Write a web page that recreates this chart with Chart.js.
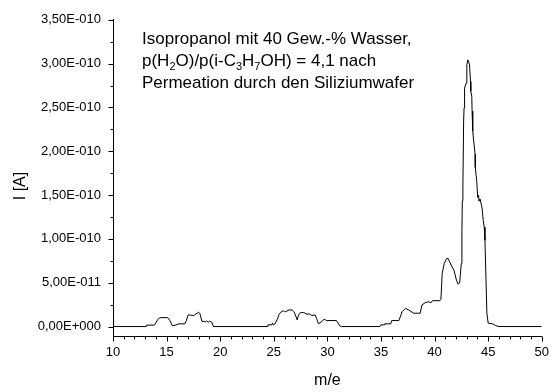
<!DOCTYPE html>
<html>
<head>
<meta charset="utf-8">
<title>Isopropanol / Wasser – Massenspektrum</title>
<script src="https://cdn.jsdelivr.net/npm/chart.js@4/dist/chart.umd.min.js"></script>
<style>
  html, body { margin: 0; padding: 0; background: #fff; }
  canvas { display: block; }
</style>
</head>
<body>
<canvas id="c" width="558" height="392"></canvas>
<script>
// Mass-to-charge ratio m/e
const massToCharge = [
  10, 13.10, 13.12, 13.86, 14.16, 14.30, 14.47, 15.08, 15.30, 15.54, 15.79, 16.16, 16.71, 16.85,
  17.01, 17.25, 17.53, 17.75, 17.99, 18.10, 18.30, 18.50, 18.60, 18.73, 18.90, 19.00, 19.21, 19.37,
  24.42, 24.45, 24.80, 24.88, 24.95, 25.09, 25.34, 25.50, 25.65, 25.89, 25.98, 26.11, 26.42, 26.72,
  26.88, 27.05, 27.18, 27.30, 27.48, 27.80, 28.10, 28.30, 28.56, 28.86, 29.00, 29.17, 29.48, 29.69,
  29.93, 30.85, 31.16, 31.30, 34.90, 34.99, 35.29, 35.35, 35.91, 36.00, 36.67, 36.98, 37.28, 37.59,
  38.05, 38.66, 38.82, 39.12, 39.43, 39.67, 39.79, 40.50, 40.59, 40.65, 40.71, 40.90, 41.12, 41.26,
  41.42, 41.63, 41.81, 42.04, 42.18, 42.34, 42.49, 42.55, 42.59, 42.64, 42.71, 42.75, 42.80, 42.95,
  43.01, 43.10, 43.18, 43.26, 43.35, 43.38, 43.47, 43.50, 43.56, 43.65, 43.78, 43.80, 43.93, 44.02,
  44.10, 44.15, 44.24, 44.42, 44.54, 44.63, 44.70, 44.88, 45.00, 45.40, 45.71, 46.01, 50
];

// Ion current in pA (1 pA = 1E-012 A)
const currentPA = [
  0, 0, 1.6, 1.6, 7.6, 9.5, 10.2, 10.2, 7.0, 0.8, 1.5, 3.1, 3.1, 7.0,
  13.3, 13.0, 12.5, 14.5, 16.3, 15.0, 5.7, 6.0, 5.0, 6.5, 5.0, 6.2, 5.0, 0,
  0, 1.9, 1.9, 3.9, 1.9, 2.7, 8.4, 14.0, 16.3, 18.1, 17.0, 17.0, 18.9, 18.9,
  17.0, 12.0, 7.6, 13.0, 15.9, 15.9, 14.0, 14.5, 12.5, 13.3, 9.0, 3.1, 5.7, 8.4,
  6.8, 6.8, 0.8, 0, 0, 1.9, 1.9, 3.1, 3.1, 6.8, 6.8, 17.0, 20.8, 18.9,
  15.2, 15.2, 24.6, 27.2, 28.3, 27.2, 29.5, 29.5, 31.0, 45.0, 60.5, 71.9, 77.6, 77.6,
  73.7, 68.0, 64.3, 52.9, 48.4, 49.9, 71.9, 109.6, 143.6, 158.7, 234.4, 249.4, 272.1, 277.8,
  298.6, 304.3, 302.0, 298.6, 279.7, 268.4, 262.7, 245.7, 223.0, 211.7, 196.6, 181.4, 166.3, 147.4,
  150.0, 143.0, 145.6, 136.1, 121.0, 113.4, 98.3, 15.2, 3.9, 3.1, 1.1, 0, 0
];

const xMajorTicks = [10, 15, 20, 25, 30, 35, 40, 45, 50];
const xMinorTicks = [11, 12, 13, 14, 16, 17, 18, 19, 21, 22, 23, 24, 26, 27, 28, 29,
                     31, 32, 33, 34, 36, 37, 38, 39, 41, 42, 43, 44, 46, 47, 48, 49];
const yMajorTicks = [0, 5e-11, 1e-10, 1.5e-10, 2e-10, 2.5e-10, 3e-10, 3.5e-10];
const yMinorTicks = [2.5e-11, 7.5e-11, 1.25e-10, 1.75e-10, 2.25e-10, 2.75e-10, 3.25e-10];

const xTitle = 'm/e';
const yTitle = 'I [A]';

// Note text; [text, isSubscript]
const noteLines = [
  [['Isopropanol mit 40 Gew.-% Wasser,', false]],
  [['p(H', false], ['2', true], ['O)/p(i-C', false], ['3', true], ['H', false], ['7', true], ['OH) = 4,1 nach', false]],
  [['Permeation durch den Siliziumwafer', false]]
];

const FONT = '"Liberation Sans", Arial, sans-serif';

// Scientific notation with comma decimal and three-digit exponent, e.g. 3,50E-010
function formatSci(v) {
  if (Math.abs(v) < 1e-20) return '0,00E+000';
  let e = Math.floor(Math.log10(Math.abs(v)) + 1e-9);
  let m = v / Math.pow(10, e);
  return m.toFixed(2).replace('.', ',') + 'E' + (e < 0 ? '-' : '+') + String(Math.abs(e)).padStart(3, '0');
}

// Outward major/minor tick marks, y-axis title and the note text
const decorations = {
  id: 'decorations',
  afterDraw(chart) {
    const ctx = chart.ctx;
    const xs = chart.scales.x, ys = chart.scales.y;
    const area = chart.chartArea;
    ctx.save();
    ctx.strokeStyle = '#000';
    ctx.lineWidth = 1;
    ctx.beginPath();
    const bottom = Math.round(area.bottom) + 0.5;
    const left = Math.round(area.left) + 0.5;
    xMajorTicks.forEach(v => {
      const p = Math.round(xs.getPixelForValue(v)) + 0.5;
      ctx.moveTo(p, bottom); ctx.lineTo(p, bottom + 5);
    });
    xMinorTicks.forEach(v => {
      const p = Math.round(xs.getPixelForValue(v)) + 0.5;
      ctx.moveTo(p, bottom); ctx.lineTo(p, bottom + 3);
    });
    yMajorTicks.forEach(v => {
      const p = Math.round(ys.getPixelForValue(v)) + 0.5;
      ctx.moveTo(left, p); ctx.lineTo(left - 5, p);
    });
    yMinorTicks.forEach(v => {
      const p = Math.round(ys.getPixelForValue(v)) + 0.5;
      ctx.moveTo(left, p); ctx.lineTo(left - 3, p);
    });
    ctx.stroke();

    // y-axis title
    ctx.fillStyle = '#000';
    ctx.font = '16px ' + FONT;
    ctx.textAlign = 'center';
    ctx.textBaseline = 'middle';
    ctx.translate(21, 186);
    ctx.rotate(-Math.PI / 2);
    ctx.fillText(yTitle, 0, 0);
    ctx.setTransform(1, 0, 0, 1, 0, 0);

    // note
    ctx.textAlign = 'left';
    ctx.textBaseline = 'alphabetic';
    const baselines = [44, 66, 88];
    noteLines.forEach((parts, i) => {
      let x = 142;
      parts.forEach(([txt, sub]) => {
        ctx.font = (sub ? '11px ' : '17px ') + FONT;
        ctx.fillText(txt, x, baselines[i] + (sub ? 4 : 0));
        x += ctx.measureText(txt).width;
      });
    });
    ctx.restore();
  }
};

new Chart(document.getElementById('c'), {
  type: 'line',
  data: {
    datasets: [{
      data: massToCharge.map((m, i) => ({ x: m, y: currentPA[i] * 1e-12 })),
      borderColor: '#000',
      borderWidth: 1,
      pointRadius: 0,
      tension: 0,
      fill: false
    }]
  },
  options: {
    responsive: false,
    animation: false,
    devicePixelRatio: 1,
    layout: { padding: { top: 17, right: 10, left: 0, bottom: 0 } },
    plugins: { legend: { display: false }, tooltip: { enabled: false } },
    scales: {
      x: {
        type: 'linear',
        min: 10, max: 50,
        afterBuildTicks: s => { s.ticks = xMajorTicks.map(v => ({ value: v })); },
        afterFit: s => { s.height = 56; },
        grid: { display: false, drawTicks: false },
        border: { display: true, color: '#000', width: 1 },
        ticks: { color: '#000', font: { family: FONT, size: 13 }, padding: 9, maxRotation: 0, autoSkip: false,
                 callback: v => String(v) },
        title: { display: true, text: xTitle, color: '#000', font: { family: FONT, size: 16 },
                 padding: { top: 0, bottom: 2 } }
      },
      y: {
        type: 'linear',
        min: -1.08e-11, max: 3.5e-10,
        afterBuildTicks: s => { s.ticks = yMajorTicks.map(v => ({ value: v })); },
        afterFit: s => { s.width = 113; },
        grid: { display: false, drawTicks: false },
        border: { display: true, color: '#000', width: 1 },
        ticks: { color: '#000', font: { family: FONT, size: 13 }, padding: 12, autoSkip: false,
                 callback: v => formatSci(v) }
      }
    }
  },
  plugins: [decorations]
});
</script>
</body>
</html>
